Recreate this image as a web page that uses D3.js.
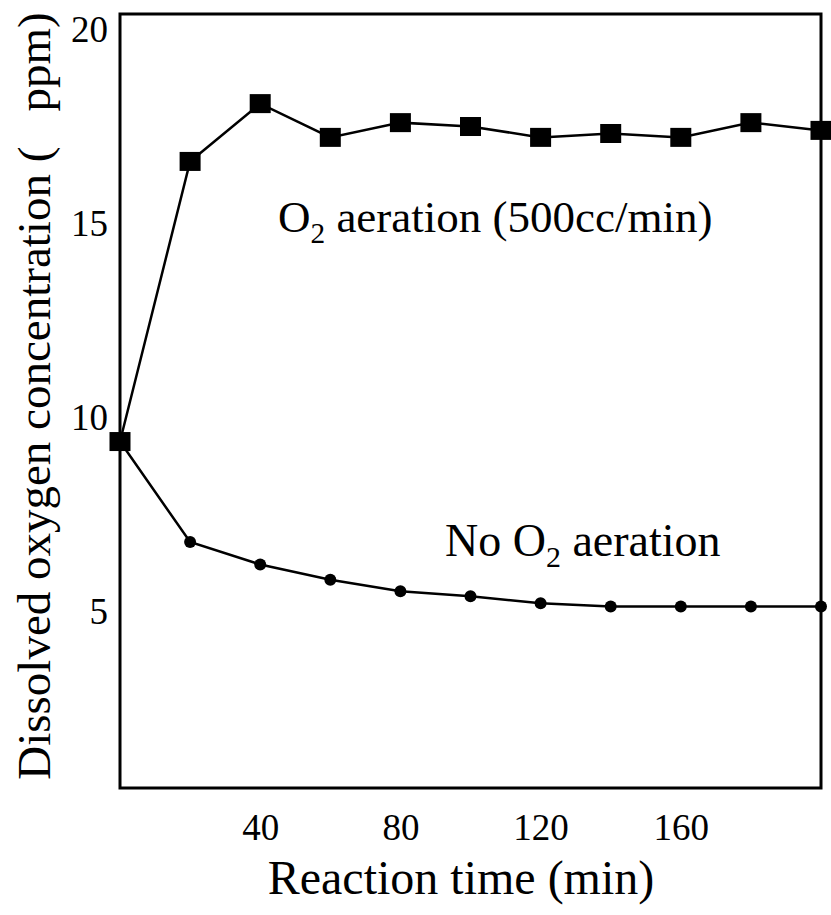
<!DOCTYPE html>
<html>
<head>
<meta charset="utf-8">
<script src="https://cdn.jsdelivr.net/npm/d3@7"></script>
<style>
  html, body { margin: 0; padding: 0; background: #fff; }
  svg { display: block; font-family: "Liberation Serif", "Times New Roman", serif; }
</style>
</head>
<body>
<svg id="chart" width="831" height="915"></svg>
<script>
// Reaction time (min)
const times = [0, 20, 40, 60, 80, 100, 120, 140, 160, 180, 200];
// Dissolved oxygen (ppm) with O2 aeration at 500 cc/min
const aerated = [9.38, 16.6, 18.09, 17.22, 17.6, 17.5, 17.22, 17.32, 17.22, 17.6, 17.4];
// Dissolved oxygen (ppm) without aeration
const notAerated = [9.38, 6.79, 6.21, 5.82, 5.52, 5.39, 5.21, 5.13, 5.13, 5.13, 5.13];
const xTicks = [40, 80, 120, 160];
const yTicks = [5, 10, 15, 20];

const svg = d3.select("#chart");
const plotL = 120, plotR = 821, plotT = 14, plotB = 788;

const x = d3.scaleLinear().domain([0, 200]).range([plotL, plotR]);
const y = d3.scaleLinear().domain([0.45, 20.4]).range([plotB, plotT]);

// plot frame
svg.append("rect")
  .attr("x", plotL).attr("y", plotT)
  .attr("width", plotR - plotL).attr("height", plotB - plotT)
  .attr("fill", "none").attr("stroke", "#000").attr("stroke-width", 3);

// y axis labels
const yAxis = svg.append("g")
  .attr("transform", `translate(${plotL},0)`)
  .call(d3.axisLeft(y).tickValues(yTicks).tickSize(0).tickPadding(12).tickFormat(d3.format("d")));
yAxis.select(".domain").remove();
yAxis.selectAll("text")
  .attr("font-family", "Liberation Serif").attr("font-size", 37).attr("fill", "#000");

// x axis labels
const xAxis = svg.append("g")
  .attr("transform", `translate(0,${plotB})`)
  .call(d3.axisBottom(x).tickValues(xTicks).tickSize(0).tickPadding(26).tickFormat(d3.format("d")));
xAxis.select(".domain").remove();
xAxis.selectAll("text")
  .attr("font-family", "Liberation Serif").attr("font-size", 37).attr("fill", "#000");

const line = d3.line().x(d => x(d[0])).y(d => y(d[1]));
const noAirPts = times.map((t, i) => [t, notAerated[i]]);
const airPts = times.map((t, i) => [t, aerated[i]]);

// series without aeration: line + filled circles
svg.append("path").datum(noAirPts)
  .attr("d", line).attr("fill", "none").attr("stroke", "#000").attr("stroke-width", 2.5);
svg.selectAll("circle.noair").data(noAirPts).enter().append("circle")
  .attr("class", "noair")
  .attr("cx", d => x(d[0])).attr("cy", d => y(d[1])).attr("r", 6).attr("fill", "#000");

// aerated series: line + filled squares
svg.append("path").datum(airPts)
  .attr("d", line).attr("fill", "none").attr("stroke", "#000").attr("stroke-width", 2.5);
const sqW = 21, sqH = 19;
svg.selectAll("rect.air").data(airPts).enter().append("rect")
  .attr("class", "air")
  .attr("x", d => x(d[0]) - sqW / 2).attr("y", d => y(d[1]) - sqH / 2)
  .attr("width", sqW).attr("height", sqH).attr("fill", "#000");

// series labels
function o2Label(xPos, yPos, before, after, size) {
  const t = svg.append("text").attr("x", xPos).attr("y", yPos)
    .attr("font-size", size).attr("fill", "#000");
  t.append("tspan").text(before + "O");
  t.append("tspan").attr("font-size", size * 0.65).attr("dy", size * 0.24).text("2");
  t.append("tspan").attr("dy", -size * 0.24).text(after);
}
o2Label(278, 232, "", " aeration (500cc/min)", 45);
o2Label(445, 556, "No ", " aeration", 46);

// axis titles
svg.append("text")
  .attr("x", 461).attr("y", 894)
  .attr("text-anchor", "middle").attr("font-size", 48).attr("fill", "#000")
  .text("Reaction time (min)");

svg.append("text")
  .attr("transform", "translate(50,396) rotate(-90)")
  .attr("text-anchor", "middle").attr("font-size", 47).attr("fill", "#000")
  .attr("xml:space", "preserve").style("white-space", "pre")
  .text("Dissolved oxygen concentration (   ppm)");
</script>
</body>
</html>
